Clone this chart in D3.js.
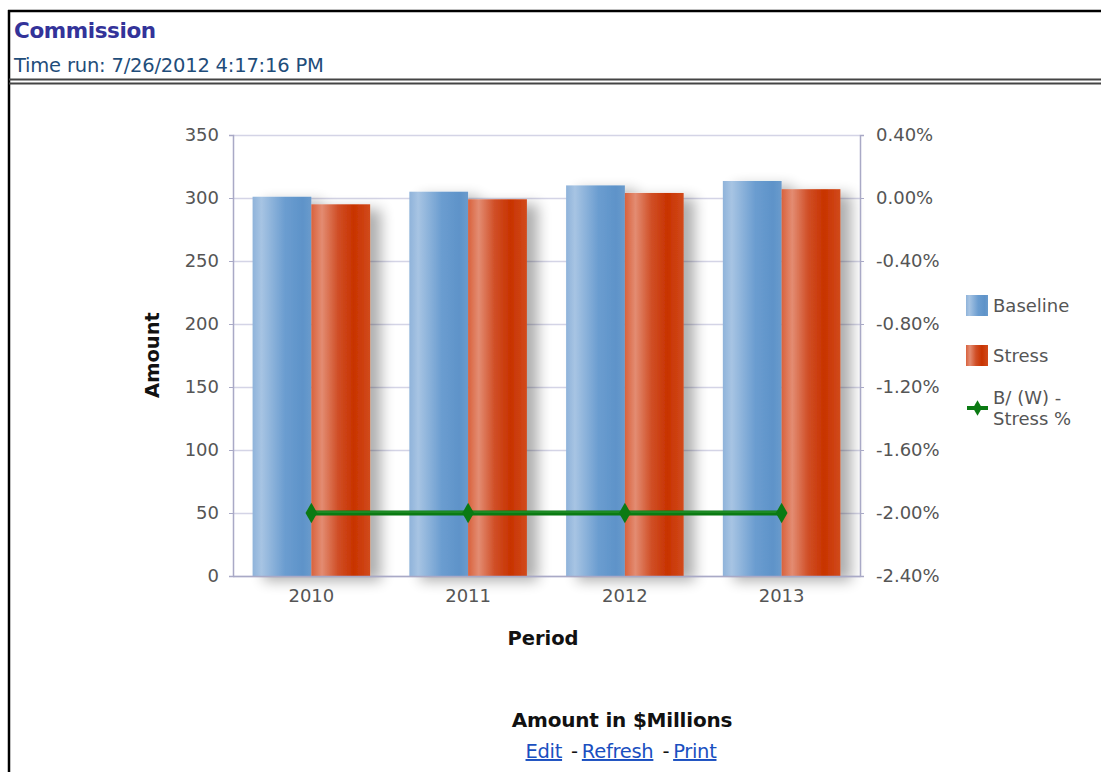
<!DOCTYPE html>
<html>
<head>
<meta charset="utf-8">
<script src="https://cdn.jsdelivr.net/npm/d3@7"></script>
<style>
  html, body { margin: 0; padding: 0; background: #fff; }
  svg { display: block; }
</style>
</head>
<body>
<svg id="chart" width="1101" height="772"></svg>
<script>
// Commission report: Baseline vs Stress amounts with B/(W) percentage line
const periods = ["2010", "2011", "2012", "2013"];
const baseline = [301, 305, 310, 313.5];
const stress = [295, 299, 304, 307];
const bwStressPct = [-2.0, -2.0, -2.0, -2.0];
const amountTicks = [0, 50, 100, 150, 200, 250, 300, 350];
const pctTicks = [-2.4, -2.0, -1.6, -1.2, -0.8, -0.4, 0.0, 0.4];
const seriesNames = ["Baseline", "Stress", "B/ (W) -\nStress %"];

const svg = d3.select("#chart");
const defs = svg.append("defs");
const FONT = "DejaVu Sans, Verdana, sans-serif";

// Cylinder-like gradients for the bars
function barGradient(id, stops) {
  const g = defs.append("linearGradient").attr("id", id)
    .attr("x1", "0%").attr("x2", "100%").attr("y1", "0%").attr("y2", "0%");
  stops.forEach(([o, c]) => g.append("stop").attr("offset", o).attr("stop-color", c));
}
barGradient("gBase", [["0%", "#8fb3da"], ["15%", "#a7c4e3"], ["55%", "#6b9dd0"], ["85%", "#5e93c9"], ["100%", "#6a9bcc"]]);
barGradient("gStress", [["0%", "#d9623d"], ["18%", "#e38c72"], ["45%", "#d04f27"], ["72%", "#c83300"], ["100%", "#d14a1c"]]);

const shadow = defs.append("filter").attr("id", "shadow")
  .attr("x", "-20%").attr("y", "-10%").attr("width", "160%").attr("height", "130%");
shadow.append("feGaussianBlur").attr("in", "SourceAlpha").attr("stdDeviation", 7).attr("result", "b");
shadow.append("feOffset").attr("in", "b").attr("dx", 11).attr("dy", 5).attr("result", "o");
shadow.append("feComponentTransfer").attr("in", "o").attr("result", "s")
  .append("feFuncA").attr("type", "linear").attr("slope", 0.32);
const fm = shadow.append("feMerge");
fm.append("feMergeNode").attr("in", "s");
fm.append("feMergeNode").attr("in", "SourceGraphic");

// Page frame and header
svg.append("line").attr("x1", 8).attr("x2", 1101).attr("y1", 11).attr("y2", 11)
  .attr("stroke", "#000").attr("stroke-width", 2.5);
svg.append("line").attr("x1", 9).attr("x2", 9).attr("y1", 10).attr("y2", 772)
  .attr("stroke", "#000").attr("stroke-width", 2.5);
svg.append("text").attr("x", 14).attr("y", 38)
  .attr("font-family", FONT).attr("font-weight", "bold").attr("font-size", 21.5)
  .attr("fill", "#333399").attr("letter-spacing", -0.4).text("Commission");
svg.append("text").attr("x", 14).attr("y", 72)
  .attr("font-family", FONT).attr("font-size", 19.5)
  .attr("fill", "#1f4d7a").attr("letter-spacing", -0.2).text("Time run: 7/26/2012 4:17:16 PM");
svg.append("rect").attr("x", 9).attr("y", 78.5).attr("width", 1092).attr("height", 2).attr("fill", "#444");
svg.append("rect").attr("x", 9).attr("y", 82.5).attr("width", 1092).attr("height", 2).attr("fill", "#444");

// Plot area
const plot = { left: 233, right: 860, top: 135, bottom: 576 };
const x = d3.scaleBand().domain(periods).range([plot.left, plot.right]).paddingInner(0.25).paddingOuter(0.125);
const xSub = d3.scaleBand().domain(["Baseline", "Stress"]).range([0, x.bandwidth()]);
const y = d3.scaleLinear().domain([0, 350]).range([plot.bottom, plot.top]);
const y2 = d3.scaleLinear().domain([-2.4, 0.4]).range([plot.bottom, plot.top]);

const axisColor = "#a9a9c6";
const labelColor = "#555";

// Gridlines
svg.append("g").selectAll("line").data(amountTicks).join("line")
  .attr("x1", plot.left).attr("x2", plot.right)
  .attr("y1", d => y(d) + 0.5).attr("y2", d => y(d) + 0.5)
  .attr("stroke", "#d4d4e6").attr("stroke-width", 1.3);

// Bars with soft shadow
const groups = svg.append("g").selectAll("g").data(periods).join("g")
  .attr("transform", d => `translate(${x(d)},0)`)
  .attr("filter", "url(#shadow)");
groups.append("rect")
  .attr("x", xSub("Baseline")).attr("width", xSub.bandwidth())
  .attr("y", (d, i) => y(baseline[i])).attr("height", (d, i) => y(0) - y(baseline[i]))
  .attr("fill", "url(#gBase)");
groups.append("rect")
  .attr("x", xSub("Stress")).attr("width", xSub.bandwidth())
  .attr("y", (d, i) => y(stress[i])).attr("height", (d, i) => y(0) - y(stress[i]))
  .attr("fill", "url(#gStress)");

// Axes
const leftAxis = d3.axisLeft(y).tickValues(amountTicks).tickSize(4).tickPadding(10).tickFormat(d3.format("d"));
const rightAxis = d3.axisRight(y2).tickValues(pctTicks).tickSize(4).tickPadding(12)
  .tickFormat(d => d3.format(".2f")(d).replace("\u2212", "-") + "%");
const bottomAxis = d3.axisBottom(x).tickSize(0).tickPadding(13);

function styleAxis(g) {
  g.select(".domain").attr("stroke", axisColor).attr("stroke-width", 1.5);
  g.selectAll(".tick line").attr("stroke", axisColor);
  g.selectAll("text").attr("fill", labelColor).attr("font-family", FONT).attr("font-size", 18);
}
svg.append("g").attr("transform", `translate(${plot.left},0)`).call(leftAxis).call(styleAxis);
svg.append("g").attr("transform", `translate(${plot.right},0)`).call(rightAxis).call(styleAxis);
svg.append("g").attr("transform", `translate(0,${plot.bottom})`).call(bottomAxis).call(styleAxis);

// B/(W) line
const line = d3.line().x((d, i) => x(periods[i]) + x.bandwidth() / 2).y(d => y2(d));
svg.append("path").datum(bwStressPct).attr("d", line)
  .attr("fill", "none").attr("stroke", "#0b7a13").attr("stroke-width", 5);
svg.append("path").datum(bwStressPct).attr("d", line)
  .attr("fill", "none").attr("stroke", "#2f9a35").attr("stroke-width", 1).attr("transform", "translate(0,-1)");
const diamond = d3.symbol().type(d3.symbolDiamond).size(120);
svg.append("g").selectAll("path").data(bwStressPct).join("path")
  .attr("transform", (d, i) => `translate(${x(periods[i]) + x.bandwidth() / 2},${y2(d)})`)
  .attr("d", diamond).attr("fill", "#0b7a13");

// Axis titles
svg.append("text").attr("transform", "translate(159,355) rotate(-90)")
  .attr("text-anchor", "middle").attr("font-family", FONT)
  .attr("font-weight", "bold").attr("font-size", 19.5).attr("fill", "#111").text("Amount");
svg.append("text").attr("x", 543).attr("y", 645)
  .attr("text-anchor", "middle").attr("font-family", FONT)
  .attr("font-weight", "bold").attr("font-size", 19.5).attr("fill", "#111").text("Period");

// Legend
const legend = svg.append("g").attr("font-family", FONT)
  .attr("font-size", 18).attr("fill", labelColor);
legend.append("rect").attr("x", 966).attr("y", 295).attr("width", 22).attr("height", 21).attr("fill", "url(#gBase)");
legend.append("text").attr("x", 993).attr("y", 312).text(seriesNames[0]);
legend.append("rect").attr("x", 966).attr("y", 345).attr("width", 22).attr("height", 21).attr("fill", "url(#gStress)");
legend.append("text").attr("x", 993).attr("y", 362).text(seriesNames[1]);
legend.append("line").attr("x1", 967).attr("x2", 988).attr("y1", 408).attr("y2", 408)
  .attr("stroke", "#0b7a13").attr("stroke-width", 4);
legend.append("path").attr("transform", "translate(977.5,408)").attr("d", d3.symbol().type(d3.symbolDiamond).size(70)).attr("fill", "#0b7a13");
seriesNames[2].split("\n").forEach((t, i) => {
  legend.append("text").attr("x", 993).attr("y", 404 + i * 21).text(t);
});

// Footer
svg.append("text").attr("x", 622).attr("y", 727).attr("text-anchor", "middle")
  .attr("font-family", FONT).attr("font-weight", "bold").attr("font-size", 20)
  .attr("fill", "#111").attr("letter-spacing", -0.2).text("Amount in $Millions");
const links = svg.append("text").attr("x", 621).attr("y", 758).attr("text-anchor", "middle")
  .attr("font-family", FONT).attr("font-size", 19.5).attr("letter-spacing", -0.3);
links.append("tspan").attr("fill", "#1a4fc0").attr("text-decoration", "underline").text("Edit");
links.append("tspan").attr("fill", "#111").attr("dx", 9).text("-");
links.append("tspan").attr("fill", "#1a4fc0").attr("dx", 4).attr("text-decoration", "underline").text("Refresh");
links.append("tspan").attr("fill", "#111").attr("dx", 9).text("-");
links.append("tspan").attr("fill", "#1a4fc0").attr("dx", 4).attr("text-decoration", "underline").text("Print");
</script>
</body>
</html>
